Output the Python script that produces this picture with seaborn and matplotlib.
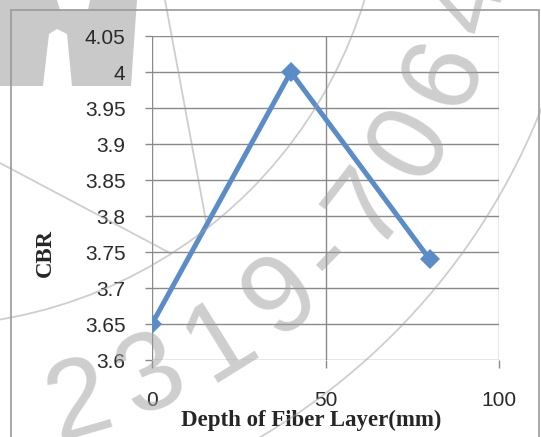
import matplotlib
matplotlib.use("Agg")
import numpy as np
import matplotlib.pyplot as plt
import seaborn as sns
import pandas as pd
from matplotlib.patches import Rectangle, Circle, Polygon
from matplotlib.lines import Line2D
from matplotlib.transforms import IdentityTransform

# CBR versus depth of the fibre layer
depth_mm = [0, 40, 80]
cbr = [3.65, 4.00, 3.74]
x_ticks = [0, 50, 100]
y_ticks = [3.6, 3.65, 3.7, 3.75, 3.8, 3.85, 3.9, 3.95, 4.0, 4.05]
y_tick_labels = ["3.6", "3.65", "3.7", "3.75", "3.8", "3.85", "3.9", "3.95", "4", "4.05"]
seal_text = "2319-7064"

df = pd.DataFrame({"depth": depth_mm, "cbr": cbr})

sns.set_style("white")
plt.rcParams["font.family"] = ["Liberation Sans", "DejaVu Sans"]

W, H = 541, 437
fig = plt.figure(figsize=(W / 100, H / 100), dpi=100)
ax = fig.add_axes([152 / W, 77 / H, 347 / W, 324 / H])
ax.set_facecolor("none")


def fpx(x, y):
    """pixel position measured from the top-left corner -> figure fraction"""
    return x / W, 1 - y / H


grid_col = "#8a8a8a"
sns.lineplot(data=df, x="depth", y="cbr", ax=ax, color="#5b8cc8", linewidth=3.6,
             marker="D", markersize=10, markeredgewidth=0, zorder=4)

ax.set_xlim(0, 100)
ax.set_ylim(3.6, 4.05)
ax.set_xticks(x_ticks)
ax.set_xticklabels([str(v) for v in x_ticks])
ax.set_yticks(y_ticks)
ax.set_yticklabels(y_tick_labels)
ax.grid(True, color=grid_col, linewidth=1.0)
for s in ax.spines.values():
    s.set_visible(False)
ax.tick_params(axis="y", length=5, width=1.0, color=grid_col, pad=14,
               labelsize=15, labelcolor="#2a2a2a", left=True)
ax.tick_params(axis="x", length=6, width=1.0, color=grid_col, pad=16,
               labelsize=15, labelcolor="#2a2a2a", bottom=True)

ax.set_ylabel("CBR", fontfamily="Liberation Serif", fontweight="bold", fontsize=16.5)
ax.yaxis.set_label_coords(-0.278, 0.33)
ax.set_xlabel("Depth of Fiber Layer(mm)", fontfamily="Liberation Serif",
              fontweight="bold", fontsize=16.5)
ax.xaxis.set_label_coords(0.46, -0.155)

# chart frame
fig.patches.append(Rectangle((11 / W, -0.05), 528 / W, 1 - 10 / H + 0.05,
                             transform=fig.transFigure, fill=False,
                             edgecolor="#9a9a9a", linewidth=1.2, zorder=0))

# ---- faint seal watermark ----
seal_rgb = (0.62, 0.62, 0.62)
seal_alpha = 0.5
cx, cy = -77, H + 136          # seal centre in display pixels (y up)

for r in (462, 665):
    fig.add_artist(Circle((cx, cy), r, transform=IdentityTransform(), fill=False,
                          edgecolor=seal_rgb, alpha=seal_alpha, linewidth=1.3,
                          zorder=6))

for (x0, y0), (x1, y1) in [((165, 0), (206, 221)), ((0, 163), (170, 253))]:
    fig.add_artist(Line2D([x0, x1], [H - y0, H - y1], transform=IdentityTransform(),
                          color=seal_rgb, alpha=seal_alpha, linewidth=1.3, zorder=6))

logo = [(0, 0), (57, 0), (60, 10), (88, 10), (90, 0), (137, 0), (131, 86),
        (72, 86), (67, 34), (57, 29), (49, 34), (43, 86), (0, 86)]
fig.add_artist(Polygon([fpx(x, y) for x, y in logo], closed=True,
                       transform=fig.transFigure, facecolor=seal_rgb,
                       edgecolor="none", alpha=0.55, zorder=-1))

# seal number set along the lower arc, tops pointing to the seal centre
radius = 563
em = 112
tracking = 1.243
adv = {"-": 0.333}
theta = np.deg2rad(-73.9)
prev = None
for ch in seal_text:
    w = adv.get(ch, 0.556) * em * tracking
    if prev is not None:
        theta += (prev + w) / 2 / radius
    px = cx + radius * np.cos(theta)
    py = cy + radius * np.sin(theta)
    fig.text(px / W, py / H, ch, fontsize=em * 0.72, color=seal_rgb,
             alpha=seal_alpha, rotation=np.rad2deg(theta) + 90,
             rotation_mode="anchor", ha="center", va="center",
             fontfamily="Liberation Sans", zorder=7)
    prev = w

fig.savefig("out.png", dpi=100)
